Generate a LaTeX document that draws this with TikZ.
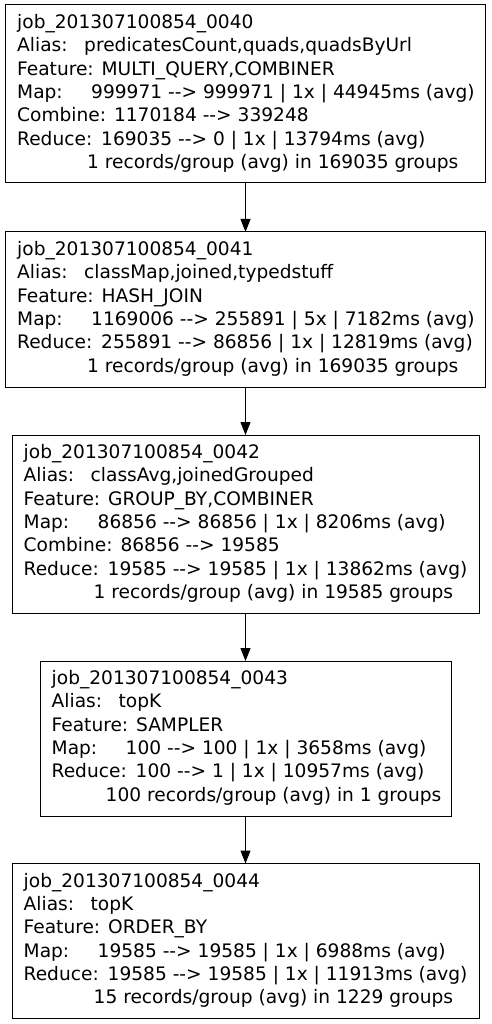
\documentclass[tikz,border=0pt]{standalone}
\usepackage{fontspec}
\setmainfont{DejaVu Sans}
\usetikzlibrary{arrows.meta,calc}

% "-->" typed with kerns so the two hyphens never merge into a dash
\newcommand\dashto{-\kern0pt-\kern0pt>}
% a field name padded to a fixed width, so the values line up
\newcommand\fieldname[2]{\makebox[#1][l]{#2}}
% strut that fixes the height of the first text line
\newcommand\toprule{\rule{0pt}{15pt}}

\tikzset{
  jobbox/.style={draw=black, line width=1pt, rectangle, inner sep=0pt,
                 outer sep=0pt, fill=white},
  jobtext/.style={anchor=north west, inner sep=0pt, align=left,
                  font=\fontsize{18.6}{23.33}\selectfont},
  flow/.style={draw=black, line width=1pt,
               -{Triangle[length=13pt,width=10pt]}},
}

\begin{document}
\begin{tikzpicture}[x=1pt,y=-1pt]
\useasboundingbox (0,0) rectangle (491,1024);
\fill[white] (0,0) rectangle (491,1024);

% job 0040
\node[jobbox, minimum width=480pt, minimum height=178pt] (j40) at (245.5,94) {};
\node[jobtext] (t40) at ($(j40.north west)+(11.5,8.3)$) {%
\toprule job\_201307100854\_0040\\
\fieldname{67pt}{Alias:}predicatesCount,quads,quadsByUrl\\
Feature: MULTI\_QUERY,COMBINER\\
\fieldname{74pt}{Map:}999971 \dashto{} 999971 | 1x | 44945ms (avg)\\
Combine: 1170184 \dashto{} 339248\\
\fieldname{84pt}{Reduce:}169035 \dashto{} 0 | 1x | 13794ms (avg)\\
\hspace*{70pt}1 records/group (avg) in 169035 groups};

% job 0041
\node[jobbox, minimum width=480pt, minimum height=155pt] (j41) at (245.5,309.5) {};
\node[jobtext] (t41) at ($(j41.north west)+(11.5,8.3)$) {%
\toprule job\_201307100854\_0041\\
\fieldname{67pt}{Alias:}classMap,joined,typedstuff\\
Feature: HASH\_JOIN\\
\fieldname{74pt}{Map:}1169006 \dashto{} 255891 | 5x | 7182ms (avg)\\
\fieldname{84pt}{Reduce:}255891 \dashto{} 86856 | 1x | 12819ms (avg)\\
\hspace*{70pt}1 records/group (avg) in 169035 groups};

% job 0042
\node[jobbox, minimum width=467pt, minimum height=178pt] (j42) at (245.5,524) {};
\node[jobtext] (t42) at ($(j42.north west)+(11.5,8.3)$) {%
\toprule job\_201307100854\_0042\\
\fieldname{67pt}{Alias:}classAvg,joinedGrouped\\
Feature: GROUP\_BY,COMBINER\\
\fieldname{74pt}{Map:}86856 \dashto{} 86856 | 1x | 8206ms (avg)\\
Combine: 86856 \dashto{} 19585\\
\fieldname{84pt}{Reduce:}19585 \dashto{} 19585 | 1x | 13862ms (avg)\\
\hspace*{70pt}1 records/group (avg) in 19585 groups};

% job 0043
\node[jobbox, minimum width=411pt, minimum height=155pt] (j43) at (245.5,738.5) {};
\node[jobtext] (t43) at ($(j43.north west)+(11.5,8.3)$) {%
\toprule job\_201307100854\_0043\\
\fieldname{67pt}{Alias:}topK\\
Feature: SAMPLER\\
\fieldname{74pt}{Map:}100 \dashto{} 100 | 1x | 3658ms (avg)\\
\fieldname{84pt}{Reduce:}100 \dashto{} 1 | 1x | 10957ms (avg)\\
\hspace*{54pt}100 records/group (avg) in 1 groups};

% job 0044
\node[jobbox, minimum width=467pt, minimum height=155pt] (j44) at (245.5,941) {};
\node[jobtext] (t44) at ($(j44.north west)+(11.5,8.3)$) {%
\toprule job\_201307100854\_0044\\
\fieldname{67pt}{Alias:}topK\\
Feature: ORDER\_BY\\
\fieldname{74pt}{Map:}19585 \dashto{} 19585 | 1x | 6988ms (avg)\\
\fieldname{84pt}{Reduce:}19585 \dashto{} 19585 | 1x | 11913ms (avg)\\
\hspace*{70pt}15 records/group (avg) in 1229 groups};

% dependencies between the jobs
\draw[flow] (j40.south) -- (j41.north);
\draw[flow] (j41.south) -- (j42.north);
\draw[flow] (j42.south) -- (j43.north);
\draw[flow] (j43.south) -- (j44.north);
\end{tikzpicture}
\end{document}
